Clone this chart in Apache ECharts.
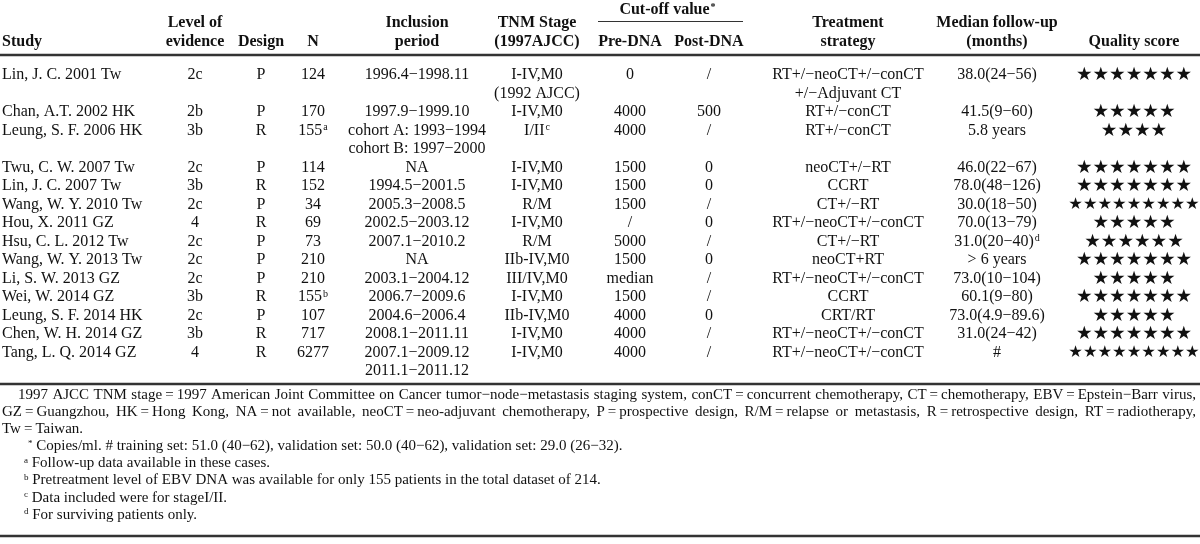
<!DOCTYPE html>
<html>
<head>
<meta charset="utf-8">
<script src="https://cdn.jsdelivr.net/npm/echarts@6/dist/echarts.min.js"></script>
<style>
  html, body { margin: 0; padding: 0; background: #fff; }
  #table { width: 1200px; height: 544px; }
</style>
</head>
<body>
<div id="table"></div>
<script>
  // ---- table data (^x = superscript) ----
  const studies = ['Lin, J. C. 2001 Tw', 'Chan, A.T. 2002 HK', 'Leung, S. F. 2006 HK', 'Twu, C. W. 2007 Tw',
    'Lin, J. C. 2007 Tw', 'Wang, W. Y. 2010 Tw', 'Hou, X. 2011 GZ', 'Hsu, C. L. 2012 Tw', 'Wang, W. Y. 2013 Tw',
    'Li, S. W. 2013 GZ', 'Wei, W. 2014 GZ', 'Leung, S. F. 2014 HK', 'Chen, W. H. 2014 GZ', 'Tang, L. Q. 2014 GZ']
  const evidence = ['2c', '2b', '3b', '2c', '3b', '2c', '4', '2c', '2c', '2c', '3b', '2c', '3b', '4']
  const design = ['P', 'P', 'R', 'P', 'R', 'P', 'R', 'P', 'P', 'P', 'R', 'P', 'R', 'R']
  const sampleN = ['124', '170', '155^a', '114', '152', '34', '69', '73', '210', '210', '155^b', '107', '717', '6277']
  const inclusion = [['1996.4−1998.11'], ['1997.9−1999.10'], ['cohort A: 1993−1994', 'cohort B: 1997−2000'], ['NA'],
    ['1994.5−2001.5'], ['2005.3−2008.5'], ['2002.5−2003.12'], ['2007.1−2010.2'], ['NA'], ['2003.1−2004.12'],
    ['2006.7−2009.6'], ['2004.6−2006.4'], ['2008.1−2011.11'], ['2007.1−2009.12', '2011.1−2011.12']]
  const tnmStage = [['I-IV,M0', '(1992 AJCC)'], ['I-IV,M0'], ['I/II^c'], ['I-IV,M0'], ['I-IV,M0'], ['R/M'], ['I-IV,M0'],
    ['R/M'], ['IIb-IV,M0'], ['III/IV,M0'], ['I-IV,M0'], ['IIb-IV,M0'], ['I-IV,M0'], ['I-IV,M0']]
  const preDNA = ['0', '4000', '4000', '1500', '1500', '1500', '/', '5000', '1500', 'median', '1500', '4000', '4000', '4000']
  const postDNA = ['/', '500', '/', '0', '0', '/', '0', '/', '0', '/', '/', '0', '/', '/']
  const treatment = [['RT+/−neoCT+/−conCT', '+/−Adjuvant CT'], ['RT+/−conCT'], ['RT+/−conCT'], ['neoCT+/−RT'], ['CCRT'],
    ['CT+/−RT'], ['RT+/−neoCT+/−conCT'], ['CT+/−RT'], ['neoCT+RT'], ['RT+/−neoCT+/−conCT'], ['CCRT'], ['CRT/RT'],
    ['RT+/−neoCT+/−conCT'], ['RT+/−neoCT+/−conCT']]
  const followUp = ['38.0(24−56)', '41.5(9−60)', '5.8 years', '46.0(22−67)', '78.0(48−126)', '30.0(18−50)', '70.0(13−79)',
    '31.0(20−40)^d', '> 6 years', '73.0(10−104)', '60.1(9−80)', '73.0(4.9−89.6)', '31.0(24−42)', '#']
  const qualityStars = [7, 5, 4, 7, 7, 9, 5, 6, 7, 5, 7, 5, 7, 9]

  const headerTop = ['', 'Level of', '', '', 'Inclusion', 'TNM Stage', '', '', 'Treatment', 'Median follow-up', '']
  const headerBottom = ['Study', 'evidence', 'Design', 'N', 'period', '(1997AJCC)', 'Pre-DNA', 'Post-DNA', 'strategy', '(months)', 'Quality score']
  const spanHeader = 'Cut-off value^*'

  const footnotes = [
    '1997 AJCC TNM stage = 1997 American Joint Committee on Cancer tumor−node−metastasis staging system, conCT = concurrent chemotherapy, CT = chemotherapy, EBV = Epstein−Barr virus,',
    'GZ = Guangzhou, HK = Hong Kong, NA = not available, neoCT = neo-adjuvant chemotherapy, P = prospective design, R/M = relapse or metastasis, R = retrospective design, RT = radiotherapy,',
    'Tw = Taiwan.',
    '^* Copies/ml. # training set: 51.0 (40−62), validation set: 50.0 (40−62), validation set: 29.0 (26−32).',
    '^a Follow-up data available in these cases.',
    '^b Pretreatment level of EBV DNA was available for only 155 patients in the total dataset of 214.',
    '^c Data included were for stageI/II.',
    '^d For surviving patients only.'
  ]

  // ---- layout ----
  const SERIF = '"Liberation Serif", "Times New Roman", serif'
  const colX = [2, 195, 261, 313, 417, 537, 630, 709, 848, 997, 1134]
  const colAlign = ['left', 'center', 'center', 'center', 'center', 'center', 'center', 'center', 'center', 'center', 'center']
  const bodyTop = 75, lineStep = 18.5
  const footTop = 395, footStep = 17.1
  const footX = [18, 2, 2, 27, 23, 23, 23, 23]
  const footJustify = [true, true, false, false, false, false, false, false]
  const footRight = 1196
  const bodyFont = 16, footFont = 15

  function richText(s) {
    return s.replace(/ = /g, '\u2009=\u2009').replace(/\^(.)/g, '{sup|$1}')
  }

  const cells = []
  // header
  headerTop.forEach((t, c) => {
    if (t) cells.push({ x: colX[c], y: 23, text: t, align: colAlign[c], bold: true })
  })
  headerBottom.forEach((t, c) => {
    cells.push({ x: colX[c], y: 42, text: t, align: colAlign[c], bold: true })
  })
  cells.push({ x: (colX[6] + colX[7]) / 2 - 2, y: 10, text: spanHeader, align: 'center', bold: true })

  // body
  let line = 0
  studies.forEach((s, i) => {
    const row = [[s], [evidence[i]], [design[i]], [sampleN[i]], inclusion[i], tnmStage[i], [preDNA[i]], [postDNA[i]],
      treatment[i], [followUp[i]]]
    let span = 1
    row.forEach((vals, c) => {
      vals.forEach((v, k) => {
        cells.push({ x: colX[c], y: bodyTop + (line + k) * lineStep, text: v, align: colAlign[c] })
      })
      span = Math.max(span, vals.length)
    })
    const n = qualityStars[i]
    cells.push({
      x: colX[10], y: bodyTop + line * lineStep + 0.5, text: '★'.repeat(n), align: 'center',
      stars: n > 8 ? 16.3 : 18.5
    })
    line += span
  })

  // footnotes (first two lines justified like the printed page)
  const ctx = document.createElement('canvas').getContext('2d')
  ctx.font = footFont + 'px ' + SERIF
  footnotes.forEach((t, i) => {
    const y = footTop + i * footStep
    if (!footJustify[i]) {
      cells.push({ x: footX[i], y: y, text: t, align: 'left', size: footFont })
      return
    }
    const words = t.replace(/ = /g, '\u2009=\u2009').split(' ')
    const widths = words.map(w => ctx.measureText(w).width)
    const total = widths.reduce((a, b) => a + b, 0)
    const gap = (footRight - footX[i] - total) / (words.length - 1)
    let x = footX[i]
    words.forEach((w, k) => {
      cells.push({ x: x, y: y, text: w, align: 'left', size: footFont })
      x += widths[k] + gap
    })
  })

  const rules = [
    // [x1, x2, y, width]
    [598, 743, 21.5, 1],
    [0, 1200, 55, 2.4],
    [0, 1200, 384, 2.4],
    [0, 1200, 536, 2.4]
  ]

  const chart = echarts.init(document.getElementById('table'), null, { renderer: 'canvas' })
  chart.setOption({
    animation: false,
    backgroundColor: '#fff',
    grid: { left: 0, right: 0, top: 0, bottom: 0 },
    xAxis: { type: 'value', min: 0, max: 1200, show: false },
    yAxis: { type: 'value', min: 0, max: 544, inverse: true, show: false },
    series: [
      {
        type: 'custom',
        clip: false,
        data: cells.map(c => [c.x, c.y]),
        renderItem(params, api) {
          const c = cells[params.dataIndex]
          const p = api.coord([api.value(0), api.value(1)])
          const size = c.stars || c.size || bodyFont
          return {
            type: 'text',
            style: {
              x: p[0],
              y: p[1],
              text: c.stars ? c.text : richText(c.text),
              align: c.align,
              verticalAlign: 'middle',
              fill: '#111',
              font: (c.bold ? 'bold ' : '') + size + 'px ' + (c.stars ? '"DejaVu Sans"' : SERIF),
              rich: {
                sup: { fontSize: Math.round(size * 0.62), fontFamily: SERIF, fontWeight: c.bold ? 'bold' : 'normal',
                  verticalAlign: 'top', fill: '#111', padding: [0, 0, 0, 1] }
              }
            }
          }
        }
      },
      {
        type: 'custom',
        clip: false,
        data: rules,
        renderItem(params, api) {
          const a = api.coord([api.value(0), api.value(2)])
          const b = api.coord([api.value(1), api.value(2)])
          return {
            type: 'line',
            shape: { x1: a[0], y1: a[1], x2: b[0], y2: b[1] },
            style: { stroke: '#333', lineWidth: api.value(3) }
          }
        }
      }
    ]
  })
</script>
</body>
</html>
